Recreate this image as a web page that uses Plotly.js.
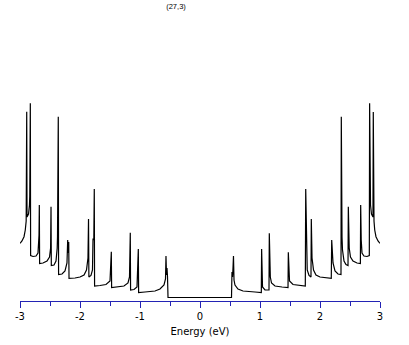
<!DOCTYPE html>
<html>
<head>
<meta charset="utf-8">
<script src="https://cdn.plot.ly/plotly-3.0.1.min.js"></script>
<style>html,body{margin:0;padding:0;background:#fff;}#chart{width:409px;height:345px;}</style>
</head>
<body>
<div id="chart"></div>
<script>
// Energy (eV)
const energy = [
  -3.000, -2.967, -2.933, -2.912, -2.897, -2.888, -2.883, -2.858, -2.842, -2.837, -2.828, -2.823,
  -2.783, -2.733, -2.700, -2.687, -2.683, -2.678, -2.673,
  -2.617, -2.550, -2.508, -2.490, -2.483, -2.478,
  -2.433, -2.400, -2.380, -2.375, -2.362, -2.357,
  -2.300, -2.250, -2.217, -2.205, -2.195, -2.188, -2.183,
  -2.083, -2.000, -1.933, -1.892, -1.867, -1.858, -1.852, -1.817, -1.792, -1.783, -1.770, -1.762, -1.757,
  -1.667, -1.567, -1.500, -1.478, -1.473,
  -1.367, -1.267, -1.200, -1.175, -1.162, -1.157,
  -1.100, -1.050, -1.028, -1.023,
  -0.917, -0.750, -0.667, -0.600, -0.575, -0.567, -0.558, -0.550, -0.542, -0.533,
  0.000,
  0.525, 0.533, 0.542, 0.550, 0.558, 0.567, 0.583, 0.633, 0.717, 0.917,
  1.022, 1.027, 1.042, 1.083,
  1.150, 1.155, 1.172, 1.192, 1.250, 1.367,
  1.467, 1.472, 1.492, 1.550, 1.667,
  1.755, 1.762, 1.770, 1.775, 1.787, 1.817, 1.850, 1.855, 1.867, 1.892, 1.933, 2.000,
  2.188, 2.195, 2.205, 2.217, 2.250, 2.300,
  2.350, 2.355, 2.367, 2.375, 2.400, 2.433,
  2.467, 2.472, 2.487, 2.508, 2.550, 2.617,
  2.673, 2.678, 2.687, 2.700, 2.733, 2.783,
  2.822, 2.827, 2.837, 2.842, 2.858, 2.883,
  2.888, 2.893, 2.900, 2.912, 2.933, 2.967, 3.000
];
// Density of states (arb. units)
const dos = [
  0.577, 0.600, 0.643, 0.710, 0.800, 1.893, 0.840, 0.870, 0.960, 1.050, 1.977, 0.455,
  0.445, 0.450, 0.480, 0.560, 0.660, 0.960, 0.375,
  0.380, 0.400, 0.440, 0.530, 0.943, 0.355,
  0.360, 0.400, 0.530, 0.640, 1.843, 0.265,
  0.270, 0.300, 0.380, 0.610, 0.480, 0.590, 0.227,
  0.230, 0.240, 0.260, 0.310, 0.430, 0.820, 0.240, 0.255, 0.310, 0.625, 0.610, 1.120, 0.150,
  0.155, 0.165, 0.200, 0.493, 0.135,
  0.140, 0.150, 0.180, 0.240, 0.683, 0.110,
  0.115, 0.140, 0.520, 0.085,
  0.090, 0.100, 0.120, 0.160, 0.220, 0.450, 0.260, 0.330, 0.250, 0.035,
  0.035,
  0.035, 0.290, 0.240, 0.330, 0.450, 0.210, 0.160, 0.120, 0.100, 0.090,
  0.085, 0.520, 0.140, 0.110,
  0.110, 0.677, 0.240, 0.180, 0.150, 0.140,
  0.135, 0.487, 0.200, 0.165, 0.155,
  0.150, 1.120, 0.610, 0.625, 0.310, 0.255, 0.240, 0.820, 0.430, 0.310, 0.260, 0.240,
  0.227, 0.610, 0.480, 0.380, 0.300, 0.270,
  0.265, 1.843, 0.640, 0.510, 0.400, 0.365,
  0.355, 0.943, 0.530, 0.440, 0.400, 0.380,
  0.375, 0.960, 0.610, 0.480, 0.450, 0.445,
  0.455, 1.977, 1.050, 0.960, 0.870, 0.840,
  1.890, 1.310, 0.800, 0.710, 0.643, 0.600, 0.577
];
const tickVals = [-3, -2, -1, 0, 1, 2, 3];
const tickText = ['-3', '-2', '-1', '0', '1', '2', '3'];
const minorTickVals = [-2.5, -1.5, -0.5, 0.5, 1.5, 2.5];

const axisBlue = '#2323b4';

Plotly.newPlot('chart', [{
  x: energy,
  y: dos,
  type: 'scatter',
  mode: 'lines',
  line: {color: '#000000', width: 1.2},
  hoverinfo: 'skip'
}], {
  width: 409,
  height: 345,
  margin: {l: 20, r: 29, t: 101, b: 44, pad: 0},
  paper_bgcolor: '#ffffff',
  plot_bgcolor: '#ffffff',
  showlegend: false,
  title: {
    text: '(27,3)',
    font: {family: 'Liberation Sans', size: 7.5, color: '#000000'},
    x: 176 / 409, xref: 'container', xanchor: 'center',
    y: 1 - 6 / 345, yref: 'container', yanchor: 'middle'
  },
  xaxis: {
    range: [-3, 3],
    tickmode: 'array',
    tickvals: tickVals,
    ticktext: tickText,
    ticks: 'outside',
    ticklen: 6,
    tickwidth: 1,
    tickcolor: axisBlue,
    showline: true,
    linecolor: axisBlue,
    linewidth: 1,
    showgrid: false,
    zeroline: false,
    tickfont: {family: 'DejaVu Sans', size: 10, color: '#000000'},
    minor: {tickmode: 'array', tickvals: minorTickVals, ticks: 'outside', ticklen: 4, tickwidth: 1, tickcolor: axisBlue, showgrid: false},
    title: {text: 'Energy (eV)', font: {family: 'DejaVu Sans', size: 10, color: '#000000'}, standoff: 6}
  },
  yaxis: {
    range: [0, 2],
    visible: false,
    showgrid: false,
    zeroline: false
  }
}, {staticPlot: true, displayModeBar: false});
</script>
</body>
</html>
